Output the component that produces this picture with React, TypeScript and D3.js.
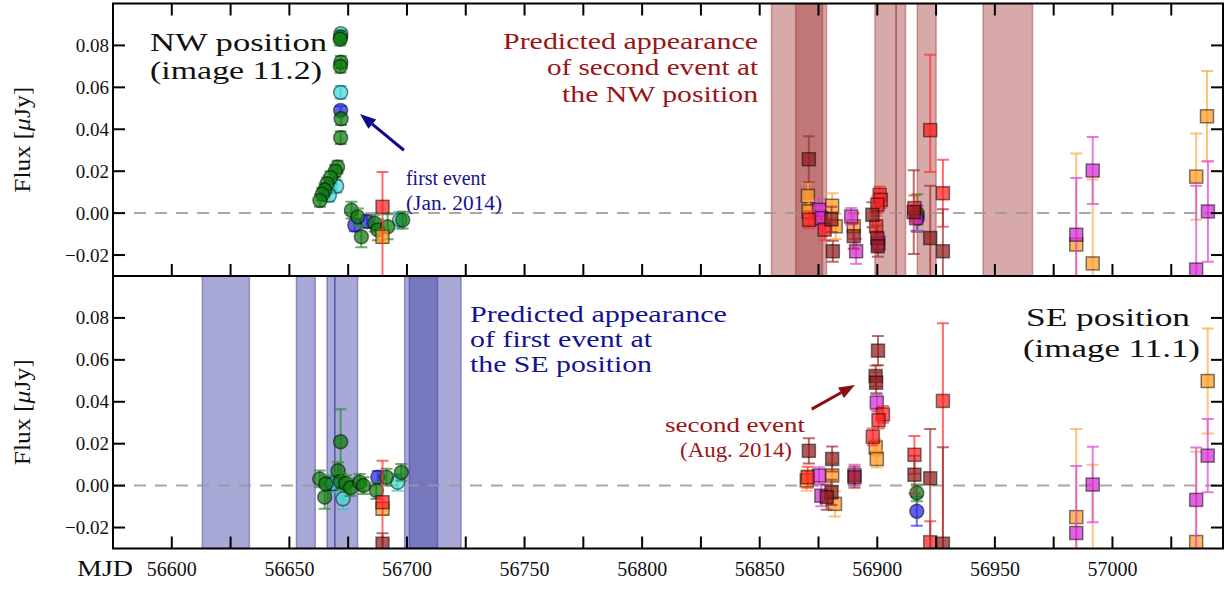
import React from 'react';
import * as d3 from 'd3';

// [MJD, flux (uJy), error, optional lower error]
type Pt = [number, number, number, number?];

const mjdTicks = [56600, 56625, 56650, 56675, 56700, 56725, 56750, 56775, 56800, 56825, 56850, 56875, 56900, 56925, 56950, 56975, 57000, 57025];
const mjdLabels = [56600, 56650, 56700, 56750, 56800, 56850, 56900, 56950, 57000];
const fluxTicks = [-0.02, 0, 0.02, 0.04, 0.06, 0.08];

// predicted windows
const nwSpans: [number, number][] = [[56855, 56878.4], [56865.3, 56876.7], [56899, 56908], [56908, 56912], [56917, 56925], [56945, 56966]];
const seSpans: [number, number][] = [[56613, 56633], [56653, 56661], [56666, 56669.3], [56669.3, 56679], [56699, 56723], [56701, 56713]];

// NW position (image 11.2)
const nwGreen: Pt[] = [
  [56671.8, 0.084, 0.003], [56671.6, 0.083, 0.003], [56671.9, 0.072, 0.003], [56671.7, 0.070, 0.003],
  [56672.0, 0.045, 0.003], [56671.8, 0.036, 0.003], [56670.5, 0.022, 0.003], [56669.5, 0.020, 0.003],
  [56667.5, 0.017, 0.003], [56666.0, 0.014, 0.003], [56665.0, 0.011, 0.003], [56664.0, 0.009, 0.003],
  [56663.0, 0.006, 0.003], [56676.4, 0.0014, 0.004], [56679.1, -0.0018, 0.004], [56680.6, -0.0113, 0.005],
  [56686.3, -0.0048, 0.004], [56687.6, -0.008, 0.005], [56691.8, -0.0065, 0.006], [56698.2, -0.0033, 0.004],
  [56917.0, 0.0, 0.009],
];
const nwCyan: Pt[] = [
  [56671.9, 0.0856, 0.002], [56671.8, 0.0576, 0.003], [56670.1, 0.0128, 0.003], [56667.0, 0.0085, 0.003],
  [56696.9, -0.0033, 0.004],
];
const nwBlue: Pt[] = [
  [56671.8, 0.049, 0.002], [56666.5, 0.012, 0.002], [56677.8, -0.0057, 0.003], [56683.0, -0.004, 0.003],
  [56917.0, -0.0025, 0.006],
];
const nwRed: Pt[] = [
  [56689.6, 0.003, 0.0166, 0.04], [56871.0, -0.0032, 0.004], [56877.6, -0.0079, 0.005], [56901.0, 0.0087, 0.004],
  [56901.5, 0.0063, 0.004], [56899.5, -0.0063, 0.005], [56900.0, 0.004, 0.004], [56915.8, 0.0024, 0.006],
  [56922.5, 0.0396, 0.036, 0.02], [56927.9, 0.0095, 0.016],
];
const nwOrange: Pt[] = [
  [56689.6, -0.0113, 0.003], [56870.5, 0.0082, 0.006], [56870.8, 0.0008, 0.005], [56880.8, 0.0035, 0.006],
  [56882.3, -0.0063, 0.006], [56890.0, -0.0063, 0.006], [56984.6, -0.015, 0.0435], [56991.6, -0.024, 0.04],
  [57035.6, 0.0174, 0.0206], [57040.2, 0.0462, 0.0216],
];
const nwMagenta: Pt[] = [
  [56875.2, 0.0016, 0.005], [56876.0, -0.0024, 0.005], [56888.9, -0.0016, 0.004], [56891.0, -0.0182, 0.006],
  [56900.5, -0.0143, 0.004], [56916.5, -0.0024, 0.006], [56984.6, -0.0103, 0.027], [56991.6, 0.0203, 0.016],
  [57035.6, -0.0269, 0.04], [57040.6, 0.0008, 0.024],
];
const nwDarkRed: Pt[] = [
  [56870.9, 0.0257, 0.011], [56880.5, -0.003, 0.006], [56881.1, -0.0182, 0.005], [56890.0, -0.011, 0.006],
  [56897.9, -0.0008, 0.006], [56900.0, -0.0119, 0.006], [56900.2, -0.0158, 0.005], [56915.5, 0.0005, 0.02],
  [56922.5, -0.0119, 0.025], [56927.9, -0.0182, 0.02],
];

// SE position (image 11.1)
const seGreen: Pt[] = [
  [56671.8, 0.0209, 0.0155], [56662.9, 0.0032, 0.004], [56665.0, -0.0055, 0.0055], [56665.5, 0.0008, 0.004],
  [56670.7, 0.0071, 0.004], [56671.7, 0.002, 0.004], [56674.0, 0.001, 0.004], [56676.0, -0.001, 0.004],
  [56679.9, 0.0016, 0.004], [56681.5, 0.0, 0.004], [56687.0, -0.0024, 0.004], [56691.3, 0.004, 0.004],
  [56697.6, 0.0063, 0.004], [56916.8, -0.0035, 0.004],
];
const seCyan: Pt[] = [
  [56672.8, -0.0063, 0.005], [56668.5, 0.001, 0.004], [56696.0, 0.0016, 0.004],
];
const seBlue: Pt[] = [
  [56687.6, 0.004, 0.003], [56668.0, 0.0005, 0.003], [56916.8, -0.0122, 0.007],
];
const seRed: Pt[] = [
  [56689.6, -0.0079, 0.0198, 0.03], [56870.4, 0.004, 0.005], [56902.4, 0.034, 0.004], [56900.5, 0.0312, 0.004],
  [56898.1, 0.0233, 0.004], [56915.8, 0.0147, 0.009], [56922.5, -0.027, 0.01], [56927.9, 0.0404, 0.037, 0.08],
];
const seOrange: Pt[] = [
  [56689.6, -0.011, 0.003], [56870.0, 0.0025, 0.005], [56880.8, 0.0048, 0.006], [56882.0, -0.0087, 0.006],
  [56899.3, 0.0182, 0.004], [56899.8, 0.0127, 0.004], [56984.6, -0.015, 0.042], [56991.6, -0.035, 0.045],
  [57035.6, -0.0269, 0.043], [57040.5, 0.0499, 0.025],
];
const seMagenta: Pt[] = [
  [56875.2, 0.0048, 0.004], [56876.2, -0.0048, 0.005], [56890.3, 0.005, 0.005], [56899.8, 0.0396, 0.004],
  [56984.6, -0.0226, 0.032], [56991.6, 0.0005, 0.018], [57035.6, -0.0068, 0.025], [57040.5, 0.0143, 0.0175],
];
const seDarkRed: Pt[] = [
  [56689.6, -0.0277, 0.005], [56870.9, 0.0166, 0.006], [56880.8, 0.0127, 0.006], [56880.5, -0.0032, 0.006],
  [56878.5, -0.0055, 0.006], [56890.3, 0.004, 0.005], [56900.3, 0.0644, 0.007], [56899.3, 0.0523, 0.005],
  [56899.5, 0.0491, 0.005], [56915.8, 0.0052, 0.009], [56922.5, 0.0035, 0.0235, 0.04], [56927.9, -0.0277, 0.046],
];

const W = 1228;
const H = 590;
const FONT = "'Liberation Serif', 'DejaVu Serif', serif";

const x = d3.scaleLinear().domain([56575, 57047]).range([113, 1223]);
const yTop = d3.scaleLinear().domain([-0.03, 0.1]).range([276, 3.5]);
const yBot = d3.scaleLinear().domain([-0.03, 0.1]).range([548.5, 276]);

const fmt = (v: number) => d3.format('.2f')(v).replace('-', '\u2212');

interface Style { fill: string; err: string; shape: 'circle' | 'square' }
const GREEN: Style = { fill: '#0b7a0b', err: '#2e8b2e', shape: 'circle' };
const CYAN: Style = { fill: '#40d8d8', err: '#30c8c8', shape: 'circle' };
const BLUE: Style = { fill: '#2525e0', err: '#3030ff', shape: 'circle' };
const RED: Style = { fill: '#ff1f1f', err: '#ff3030', shape: 'square' };
const ORANGE: Style = { fill: '#ff9a20', err: '#ffaa40', shape: 'square' };
const MAGENTA: Style = { fill: '#d42ad4', err: '#dd44dd', shape: 'square' };
const DARKRED: Style = { fill: '#8e1c1c', err: '#a03030', shape: 'square' };

const nwSeries: [Pt[], Style][] = [
  [nwBlue, BLUE], [nwCyan, CYAN], [nwGreen, GREEN],
  [nwOrange, ORANGE], [nwMagenta, MAGENTA], [nwRed, RED], [nwDarkRed, DARKRED],
];
const seSeries: [Pt[], Style][] = [
  [seBlue, BLUE], [seCyan, CYAN], [seGreen, GREEN],
  [seOrange, ORANGE], [seMagenta, MAGENTA], [seRed, RED], [seDarkRed, DARKRED],
];

const Series: React.FC<{ data: Pt[]; st: Style; y: d3.ScaleLinear<number, number> }> = ({ data, st, y }) => (
  <g>
    {data.map(([m, f, e, lo], i) => {
      const px = x(m), py = y(f), y1 = y(f + e), y2 = y(f - (lo ?? e));
      return (
        <g key={i}>
          <g stroke={st.err} strokeWidth={2} strokeOpacity={0.7}>
            <line x1={px} x2={px} y1={y1} y2={y2} />
            <line x1={px - 6} x2={px + 6} y1={y1} y2={y1} />
            <line x1={px - 6} x2={px + 6} y1={y2} y2={y2} />
          </g>
          {st.shape === 'circle'
            ? <circle cx={px} cy={py} r={7} fill={st.fill} fillOpacity={0.72} stroke="#000" strokeOpacity={0.5} strokeWidth={1.5} />
            : <rect x={px - 6.5} y={py - 6.5} width={13} height={13} fill={st.fill} fillOpacity={0.72} stroke="#000" strokeOpacity={0.5} strokeWidth={1.5} />}
        </g>
      );
    })}
  </g>
);

const Panel: React.FC<{
  y: d3.ScaleLinear<number, number>;
  spans: [number, number][];
  spanColor: string;
  series: [Pt[], Style][];
  id: string;
  topTicks: boolean;
}> = ({ y, spans, spanColor, series, id, topTicks }) => {
  const [x0, x1] = x.range();
  const [yb, yt] = y.range();
  return (
    <g>
      <defs>
        <clipPath id={id}>
          <rect x={x0} y={yt} width={x1 - x0} height={yb - yt} />
        </clipPath>
      </defs>
      <g clipPath={`url(#${id})`}>
        {spans.map(([a, b], i) => (
          <rect key={i} x={x(a)} y={yt} width={x(b) - x(a)} height={yb - yt}
            fill={spanColor} fillOpacity={0.42} stroke={spanColor} strokeOpacity={0.45} strokeWidth={1.5} />
        ))}
        <line x1={x0} x2={x1} y1={y(0)} y2={y(0)} stroke="#999" strokeOpacity={0.85} strokeWidth={2} strokeDasharray="12,9" />
        {series.map(([d, st], i) => <Series key={i} data={d} st={st} y={y} />)}
      </g>
      {/* ticks */}
      <g stroke="#000" strokeWidth={2}>
        {mjdTicks.map(t => (
          <g key={t}>
            <line x1={x(t)} x2={x(t)} y1={yb} y2={yb - 12} />
            {topTicks && <line x1={x(t)} x2={x(t)} y1={yt} y2={yt + 12} />}
          </g>
        ))}
        {fluxTicks.map(t => (
          <g key={t}>
            <line x1={x0} x2={x0 + 12} y1={y(t)} y2={y(t)} />
            <line x1={x1} x2={x1 - 12} y1={y(t)} y2={y(t)} />
          </g>
        ))}
      </g>
      <g fontFamily={FONT} fontSize={19} textAnchor="end" fill="#111">
        {fluxTicks.map(t => (
          <text key={t} x={x0 - 4} y={y(t) + 6.5}>{fmt(t)}</text>
        ))}
      </g>
      <text transform={`translate(30,${(yb + yt) / 2}) rotate(-90)`} textAnchor="middle"
        fontFamily={FONT} fontSize={23} fill="#111" textLength={106} lengthAdjust="spacingAndGlyphs">
        Flux [<tspan fontStyle="italic">μ</tspan>Jy]
      </text>
      <rect x={x0} y={yt} width={x1 - x0} height={yb - yt} fill="none" stroke="#000" strokeWidth={2} />
    </g>
  );
};

const Arrow: React.FC<{ from: [number, number]; to: [number, number]; y: d3.ScaleLinear<number, number>; color: string }> = ({ from, to, y, color }) => {
  const x1 = x(from[0]), y1 = y(from[1]), x2 = x(to[0]), y2 = y(to[1]);
  const ang = Math.atan2(y2 - y1, x2 - x1);
  const L = 16, Wd = 6;
  const bx = x2 - L * Math.cos(ang), by = y2 - L * Math.sin(ang);
  const nx = -Math.sin(ang) * Wd, ny = Math.cos(ang) * Wd;
  return (
    <g>
      <line x1={x1} y1={y1} x2={bx} y2={by} stroke={color} strokeWidth={3} />
      <polygon points={`${x2},${y2} ${bx + nx},${by + ny} ${bx - nx},${by - ny}`} fill={color} />
    </g>
  );
};

const RED_TXT = '#991515';
const BLUE_TXT = '#13138f';

export default function App() {
  return (
    <div style={{ position: 'absolute', left: 0, top: 0 }}>
      <svg width={W} height={H} style={{ display: 'block', background: '#fff' }}>
        <Panel y={yTop} spans={nwSpans} spanColor="rgb(160,50,50)" series={nwSeries} id="clipNW" topTicks={true} />
        <Panel y={yBot} spans={seSpans} spanColor="rgb(50,50,160)" series={seSeries} id="clipSE" topTicks={false} />

        {/* x tick labels */}
        <g fontFamily={FONT} fontSize={20} textAnchor="middle" fill="#111">
          {mjdLabels.map(t => (
            <text key={t} x={x(t)} y={576}>{t}</text>
          ))}
        </g>
        <text x={77} y={576} fontFamily={FONT} fontSize={24} fill="#111" textLength={56} lengthAdjust="spacingAndGlyphs">MJD</text>

        {/* NW annotations */}
        <g fontFamily={FONT} fontSize={26} fill="#111">
          <text x={150} y={51} textLength={177} lengthAdjust="spacingAndGlyphs">NW position</text>
          <text x={150} y={79} textLength={172} lengthAdjust="spacingAndGlyphs">(image 11.2)</text>
        </g>
        <g fontFamily={FONT} fontSize={23} fill={RED_TXT} textAnchor="end">
          <text x={758} y={49} textLength={255} lengthAdjust="spacingAndGlyphs">Predicted appearance</text>
          <text x={758} y={75} textLength={211} lengthAdjust="spacingAndGlyphs">of second event at</text>
          <text x={758} y={102} textLength={196} lengthAdjust="spacingAndGlyphs">the NW position</text>
        </g>
        <g fontFamily={FONT} fontSize={20} fill={BLUE_TXT}>
          <text x={406} y={185} textLength={80} lengthAdjust="spacingAndGlyphs">first event</text>
          <text x={406} y={210} textLength={96} lengthAdjust="spacingAndGlyphs">(Jan. 2014)</text>
        </g>
        <Arrow from={[56698.7, 0.030]} to={[56680.0, 0.0473]} y={yTop} color="#0c0c8a" />

        {/* SE annotations */}
        <g fontFamily={FONT} fontSize={23} fill={BLUE_TXT}>
          <text x={470} y={322} textLength={257} lengthAdjust="spacingAndGlyphs">Predicted appearance</text>
          <text x={470} y={347} textLength={182} lengthAdjust="spacingAndGlyphs">of first event at</text>
          <text x={470} y={372} textLength={182} lengthAdjust="spacingAndGlyphs">the SE position</text>
        </g>
        <g fontFamily={FONT} fontSize={26} fill="#111" textAnchor="end">
          <text x={1190} y={326} textLength={164} lengthAdjust="spacingAndGlyphs">SE position</text>
          <text x={1200} y={357} textLength={177} lengthAdjust="spacingAndGlyphs">(image 11.1)</text>
        </g>
        <g fontFamily={FONT} fontSize={20} fill={RED_TXT} textAnchor="middle">
          <text x={735} y={432} textLength={140} lengthAdjust="spacingAndGlyphs">second event</text>
          <text x={736} y={457} textLength={112} lengthAdjust="spacingAndGlyphs">(Aug. 2014)</text>
        </g>
        <Arrow from={[56872.1, 0.0365]} to={[56890.5, 0.048]} y={yBot} color="#8a1010" />
      </svg>
    </div>
  );
}
